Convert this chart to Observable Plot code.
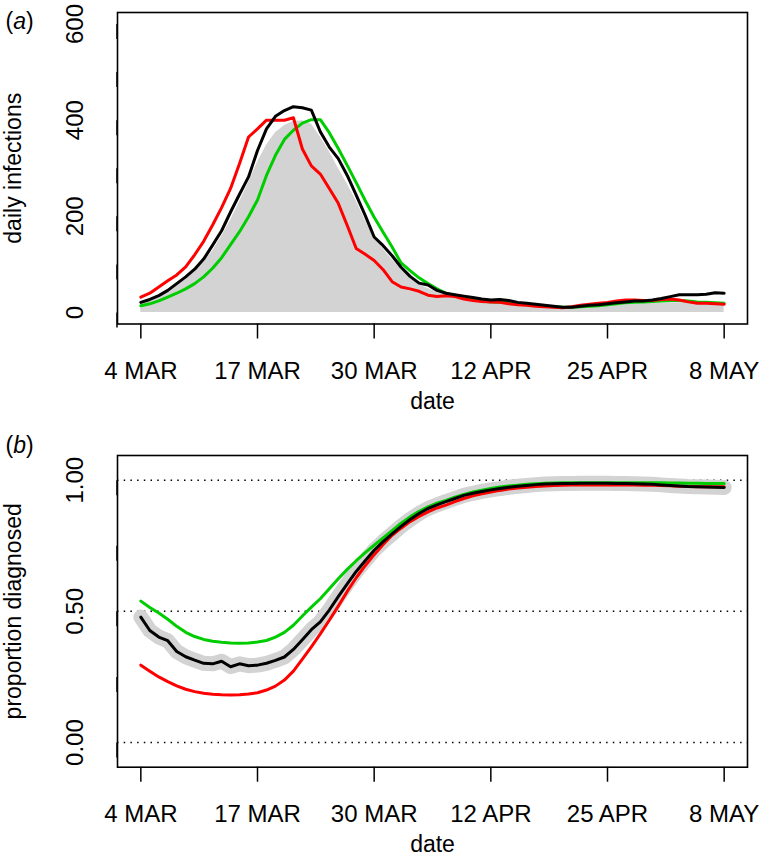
<!DOCTYPE html>
<html><head><meta charset="utf-8">
<script src="https://cdn.jsdelivr.net/npm/d3@7"></script>
<script src="https://cdn.jsdelivr.net/npm/@observablehq/plot@0.6"></script>
<style>
body{margin:0;background:#fff;}
#chart svg{display:block;}
</style></head><body><div id="chart"></div>
<script>
// x axis: day index 0 = 4 MAR
const xTickDays = [0, 13, 26, 39, 52, 65];
const xTickLabels = ["4 MAR", "17 MAR", "30 MAR", "12 APR", "25 APR", "8 MAY"];

// panel (a)
const yTicksA = [0, 100, 200, 300, 400, 500, 600];
const yLabelsA = ["0", "", "200", "", "400", "", "600"];
const infGray = [18,24,32,42,55,68,84,104,128,158, 192,230,270,312,348,374,389,397,399,392,
  365,335,300,268,232,192,158,132,110,90, 74,58,50,42,36,31,27,24,22,20,
  19,18,16,15,14,12,11,10,10,11, 12,13,14,15,16,17,18,19,19,20, 20,20,19,18,18,17];
const infRed = [32,40,53,66,78,95,120,148,182,218, 258,310,365,382,400,400,400,405,340,305,
  288,258,227,181,133,121,108,89,64,53, 49,44,36,33,35,33,28,25,23,22,
  21,18,16,15,13,12,11,10,12,15, 17,19,21,24,26,26,25,25,27,28, 26,22,19,19,18,17];
const infGreen = [14,18,24,32,40,49,60,74,92,114, 141,168,199,234,285,327,360,379,394,401,
  401,374,341,306,270,233,198,167,136,103, 87,72,60,49,40,34,30,27,24,22,
  21,20,18,16,15,13,12,11,11,12, 13,14,16,18,20,21,22,23,24,25, 25,24,22,21,20,19];
const infBlack = [21,27,35,46,60,74,90,111,140,170, 209,246,282,337,382,408,420,428,426,421,
  376,344,320,285,244,202,157,139,118,94, 75,61,57,46,40,37,34,31,28,26,
  27,25,21,19,17,15,13,11,11,13, 15,16,18,20,22,24,24,26,29,33, 37,37,37,38,41,40];

// panel (b)
const yTicksB = [0, 0.25, 0.5, 0.75, 1];
const yLabelsB = ["0.00", "", "0.50", "", "1.00"];
const refLinesB = [0, 0.5, 1];
const propBlack = [0.478,0.427,0.402,0.388,0.347,0.327,0.314,0.302,0.300,0.310,
  0.289,0.300,0.293,0.295,0.302,0.313,0.326,0.355,0.392,0.430,
  0.460,0.505,0.556,0.605,0.652,0.693,0.733,0.766,0.795,0.824,
  0.850,0.873,0.892,0.906,0.918,0.930,0.942,0.950,0.957,0.963,
  0.968,0.973,0.977,0.980,0.983,0.985,0.986,0.987,0.987,0.988,
  0.988,0.988,0.988,0.987,0.987,0.986,0.985,0.984,0.982,0.980,
  0.978,0.976,0.975,0.974,0.973,0.972];
const propBand = propBlack;
const propGreen = [0.539,0.515,0.494,0.470,0.443,0.420,0.404,0.393,0.386,0.382,
  0.379,0.378,0.379,0.383,0.389,0.402,0.420,0.447,0.482,0.516,
  0.548,0.586,0.624,0.660,0.693,0.724,0.752,0.780,0.808,0.836,
  0.860,0.881,0.898,0.912,0.923,0.935,0.946,0.955,0.962,0.968,
  0.974,0.978,0.981,0.984,0.986,0.988,0.989,0.990,0.990,0.990,
  0.990,0.990,0.990,0.990,0.990,0.990,0.990,0.990,0.990,0.989,
  0.989,0.988,0.988,0.987,0.987,0.987];
const propRed = [0.295,0.272,0.250,0.232,0.216,0.203,0.194,0.188,0.184,0.182,
  0.181,0.182,0.185,0.190,0.200,0.215,0.238,0.272,0.318,0.365,
  0.414,0.466,0.520,0.576,0.628,0.674,0.716,0.755,0.790,0.817,
  0.842,0.862,0.879,0.894,0.905,0.918,0.930,0.940,0.948,0.955,
  0.961,0.966,0.970,0.973,0.976,0.978,0.980,0.981,0.982,0.982,
  0.982,0.982,0.982,0.982,0.982,0.982,0.981,0.981,0.980,0.979,
  0.977,0.976,0.975,0.975,0.975,0.975];

const days = d3.range(infBlack.length);
const RED = "#ff0000", GREEN = "#00cd00", GRAY = "#d3d3d3";
const FONT = '"Liberation Sans", Arial, Helvetica, sans-serif';

function common(tag, yTicks, yLabels, ytitle) {
  return [
    Plot.frame({stroke: "black", strokeWidth: 1.6}),
    Plot.axisX(xTickDays, {anchor: "bottom", tickSize: 15, tickPadding: 23, strokeWidth: 1.5,
      tickFormat: d => xTickLabels[xTickDays.indexOf(d)], fontSize: 24, label: null}),
    Plot.axisY(yTicks, {anchor: "left", tickSize: 15, tickPadding: 20, strokeWidth: 1.5,
      tickFormat: d => yLabels[yTicks.indexOf(d)], rotate: -90, textAnchor: "middle",
      lineAnchor: "bottom", fontSize: 24, label: null}),
    Plot.text([ytitle], {text: d => d, frameAnchor: "left", rotate: -90, textAnchor: "middle",
      lineAnchor: "bottom", dx: -97, fontSize: 23}),
    Plot.text(["date"], {text: d => d, frameAnchor: "bottom", textAnchor: "middle",
      lineAnchor: "bottom", dy: 85, fontSize: 23}),
    Plot.text([tag], {text: d => d, frameAnchor: "top-left", textAnchor: "start",
      lineAnchor: "bottom", dx: -112, dy: tag === "(a)" ? 16.5 : -3, fontSize: 23})
  ];
}

const plotA = Plot.plot({
  width: 763, height: 415,
  marginLeft: 117, marginRight: 16, marginTop: 12, marginBottom: 91.5,
  style: {fontFamily: FONT, fontSize: "24px", color: "black", background: "white"},
  x: {domain: [-2.6, 67.6]},
  y: {domain: [-24, 624]},
  marks: [
    Plot.areaY(days, {x: d => d, y: d => infGray[d], fill: GRAY}),
    Plot.lineY(days, {x: d => d, y: d => infGreen[d], stroke: GREEN, strokeWidth: 3}),
    Plot.lineY(days, {x: d => d, y: d => infRed[d], stroke: RED, strokeWidth: 3}),
    Plot.lineY(days, {x: d => d, y: d => infBlack[d], stroke: "black", strokeWidth: 3}),
    ...common("(a)", yTicksA, yLabelsA, "daily infections")
  ]
});

const plotB = Plot.plot({
  width: 763, height: 448,
  marginLeft: 117, marginRight: 16, marginTop: 40, marginBottom: 96.3,
  style: {fontFamily: FONT, fontSize: "24px", color: "black", background: "white"},
  x: {domain: [-2.6, 67.6]},
  y: {domain: [-0.094, 1.094]},
  marks: [
    Plot.ruleY(refLinesB, {stroke: "black", strokeWidth: 1.5, strokeDasharray: "1.5,5.2"}),
    Plot.lineY(days, {x: d => d, y: d => propBand[d], stroke: GRAY, strokeWidth: 15,
      strokeLinecap: "round", strokeLinejoin: "round"}),
    Plot.lineY(days, {x: d => d, y: d => propRed[d], stroke: RED, strokeWidth: 3}),
    Plot.lineY(days, {x: d => d, y: d => propGreen[d], stroke: GREEN, strokeWidth: 3}),
    Plot.lineY(days, {x: d => d, y: d => propBlack[d], stroke: "black", strokeWidth: 3}),
    ...common("(b)", yTicksB, yLabelsB, "proportion diagnosed")
  ]
});

function italicize(svg, label) {
  svg.querySelectorAll("text").forEach(t => {
    if (t.textContent === label) {
      const letter = label.slice(1, -1);
      while (t.firstChild) t.removeChild(t.firstChild);
      const ns = "http://www.w3.org/2000/svg";
      t.appendChild(document.createTextNode("("));
      const ts = document.createElementNS(ns, "tspan");
      ts.setAttribute("font-style", "italic");
      ts.textContent = letter;
      t.appendChild(ts);
      t.appendChild(document.createTextNode(")"));
    }
  });
}
italicize(plotA, "(a)");
italicize(plotB, "(b)");

const root = document.getElementById("chart");
root.appendChild(plotA);
root.appendChild(plotB);
</script></body></html>
